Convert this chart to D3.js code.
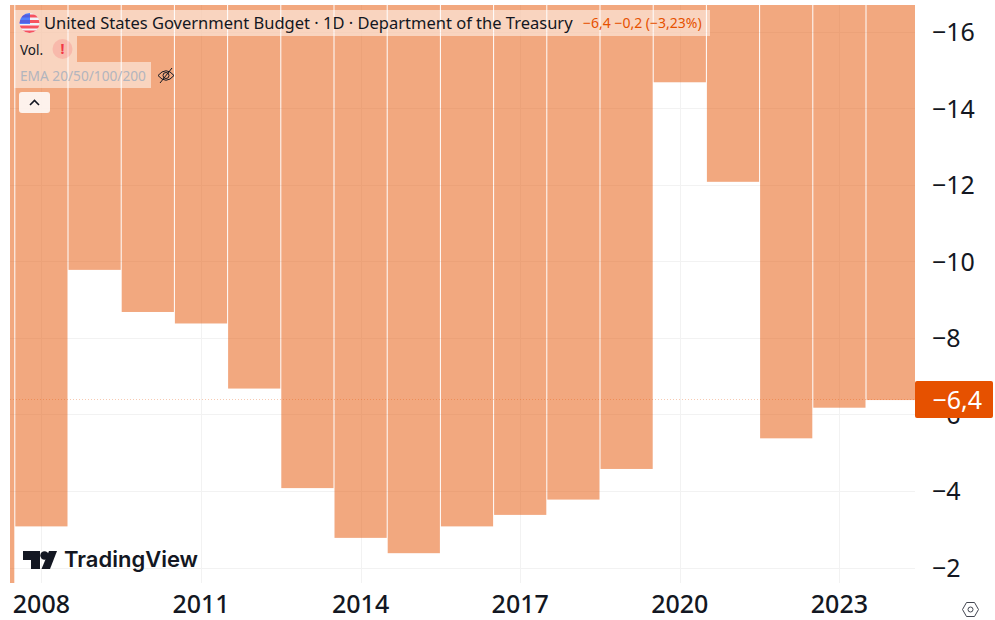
<!DOCTYPE html>
<html>
<head>
<meta charset="utf-8">
<script src="https://cdn.jsdelivr.net/npm/d3@7"></script>
<style>
  html, body { margin: 0; padding: 0; background: #fff; }
  svg { display: block; }
  text { font-family: "Noto Sans", sans-serif; }
</style>
</head>
<body>
<div id="plot"></div>
<script>
var years = [2007, 2008, 2009, 2010, 2011, 2012, 2013, 2014, 2015, 2016, 2017, 2018, 2019, 2020, 2021, 2022, 2023, 2024];
var budget = [-1.6, -3.1, -9.8, -8.7, -8.4, -6.7, -4.1, -2.8, -2.4, -3.1, -3.4, -3.8, -4.6, -14.7, -12.1, -5.4, -6.2, -6.4];
var yTicks = [-16, -14, -12, -10, -8, -6, -4, -2];
var xTicks = [2008, 2011, 2014, 2017, 2020, 2023];
var lastValue = -6.4;

var width = 995, height = 620;
var left = 10, right = 915, top_ = 5, bottom = 583;

var svg = d3.select("#plot").append("svg")
  .attr("width", width)
  .attr("height", height);

var defs = svg.append("defs");
defs.append("clipPath").attr("id", "pane")
  .append("rect").attr("x", left).attr("y", top_).attr("width", right - left).attr("height", bottom - top_);
defs.append("clipPath").attr("id", "flag")
  .append("circle").attr("cx", 29.5).attr("cy", 23).attr("r", 10);

var x = d3.scaleBand()
  .domain(years)
  .range([-38.4, 919.2])
  .paddingInner(0);

var y = d3.scaleLinear()
  .domain([-16, -2])
  .range([32.5, 568.5]);

function fmt(v) {
  return "\u2212" + String(Math.abs(v)).replace(".", ",");
}

var pane = svg.append("g").attr("clip-path", "url(#pane)");

// grid
pane.append("g").selectAll("line").data(yTicks).enter().append("line")
  .attr("x1", left).attr("x2", right)
  .attr("y1", function(d) { return Math.round(y(d)) - 0.5; })
  .attr("y2", function(d) { return Math.round(y(d)) - 0.5; })
  .attr("stroke", "#f2f2f2");

pane.append("g").selectAll("line").data(xTicks).enter().append("line")
  .attr("x1", function(d) { return Math.round(x(d) + x.bandwidth() / 2) + 0.5; })
  .attr("x2", function(d) { return Math.round(x(d) + x.bandwidth() / 2) + 0.5; })
  .attr("y1", top_).attr("y2", bottom)
  .attr("stroke", "#f2f2f2");

// bars hang from the top of the pane
pane.append("g").selectAll("rect").data(years).enter().append("rect")
  .attr("x", function(d) { return x(d) + 0.5; })
  .attr("width", x.bandwidth() - 1)
  .attr("y", top_)
  .attr("height", function(d, i) { return y(budget[i]) - top_; })
  .attr("fill", "#e65100")
  .attr("fill-opacity", 0.5);

// last value line
pane.append("line")
  .attr("x1", left).attr("x2", right)
  .attr("y1", Math.floor(y(lastValue)) - 0.5).attr("y2", Math.floor(y(lastValue)) - 0.5)
  .attr("stroke", "#e65100").attr("stroke-opacity", 0.3)
  .attr("stroke-dasharray", "1 2");

// axes
var yAxis = svg.append("g").attr("transform", "translate(" + right + ",0)")
  .call(d3.axisRight(y).tickValues(yTicks).tickSize(0).tickPadding(17).tickFormat(fmt));
yAxis.select(".domain").remove();
yAxis.selectAll("text").attr("font-size", 25).attr("fill", "#131722").style("font-family", '"Noto Sans", sans-serif');

var xAxis = svg.append("g").attr("transform", "translate(0," + bottom + ")")
  .call(d3.axisBottom(x).tickValues(xTicks).tickSize(0).tickPadding(12).tickFormat(d3.format("d")));
xAxis.select(".domain").remove();
xAxis.selectAll("text").attr("font-size", 25).attr("font-weight", 500).attr("fill", "#131722").style("font-family", '"Noto Sans", sans-serif');

// last price tag
svg.append("rect").attr("x", 915).attr("y", 381).attr("width", 78).attr("height", 37).attr("rx", 2).attr("fill", "#e65100");
svg.append("text").attr("x", 982).attr("y", y(lastValue) + 9)
  .attr("text-anchor", "end").attr("font-size", 25).attr("fill", "#fff").text(fmt(lastValue));

// legend
var legend = svg.append("g");
legend.append("rect").attr("x", 14).attr("y", 10).attr("width", 696).attr("height", 26).attr("fill", "#fff").attr("fill-opacity", 0.5);
legend.append("rect").attr("x", 14).attr("y", 36).attr("width", 63).attr("height", 26).attr("fill", "#fff").attr("fill-opacity", 0.5);
legend.append("rect").attr("x", 14).attr("y", 62).attr("width", 137).attr("height", 26).attr("fill", "#fff").attr("fill-opacity", 0.5);

var flag = legend.append("g").attr("clip-path", "url(#flag)");
flag.append("rect").attr("x", 19).attr("y", 13).attr("width", 21).attr("height", 20).attr("fill", "#f0f3fa");
[14, 19.5, 25, 30].forEach(function(sy) {
  flag.append("rect").attr("x", 19).attr("y", sy + 0.5).attr("width", 21).attr("height", 3).attr("fill", "#f7525f");
});
flag.append("rect").attr("x", 19).attr("y", 13).attr("width", 11).attr("height", 11).attr("fill", "#2962ff").attr("fill-opacity", 0.8);

legend.append("text").attr("x", 44).attr("y", 29).attr("font-size", 16.5).attr("fill", "#131722").text("United States Government Budget \u00b7 1D \u00b7 Department of the Treasury");
legend.append("text").attr("x", 583).attr("y", 28).attr("font-size", 14).attr("fill", "#e65100").text("\u22126,4  \u22120,2 (\u22123,23%)");
legend.append("text").attr("x", 20).attr("y", 55).attr("font-size", 13.5).attr("fill", "#131722").text("Vol.");
legend.append("circle").attr("cx", 62.5).attr("cy", 49).attr("r", 10).attr("fill", "#f7525f").attr("fill-opacity", 0.2);
legend.append("text").attr("x", 62.5).attr("y", 54).attr("text-anchor", "middle").attr("font-size", 14).attr("font-weight", 700).attr("fill", "#f23645").text("!");
legend.append("text").attr("x", 20).attr("y", 81).attr("font-size", 13.7).attr("fill", "#b2b5be").text("EMA 20/50/100/200");

// hidden eye icon
var eye = legend.append("g").attr("fill", "none").attr("stroke", "#131722").attr("stroke-width", 1);
eye.append("path").attr("d", "M158 75.5 Q166 66 174 75.5 Q166 85 158 75.5 Z");
eye.append("circle").attr("cx", 166).attr("cy", 75.5).attr("r", 3);
eye.append("line").attr("x1", 160).attr("y1", 83).attr("x2", 172).attr("y2", 68);

// collapse button
legend.append("rect").attr("x", 19).attr("y", 92).attr("width", 31).attr("height", 21).attr("rx", 3).attr("fill", "#fff").attr("fill-opacity", 0.85);
legend.append("path").attr("d", "M30 105 L34.5 100.5 L39 105").attr("fill", "none").attr("stroke", "#131722").attr("stroke-width", 1.6);

// logo
var logo = svg.append("g").attr("fill", "#131722");
logo.append("path").attr("d", "M23 551 H40 V569 H31 V560 H23 Z");
logo.append("circle").attr("cx", 44.5).attr("cy", 555.5).attr("r", 4.2);
logo.append("path").attr("d", "M49 551 H57 L50 569 H41.5 Z");
logo.append("text").attr("x", 64).attr("y", 567).attr("font-size", 22).attr("font-weight", 600).style("font-family", "Inter, sans-serif").attr("fill", "#131722").text("TradingView");

// settings nut, bottom right
svg.append("path").attr("d", "M962.5 609.5 L966.5 602.5 H974.5 L978.5 609.5 L974.5 616.5 H966.5 Z").attr("fill", "none").attr("stroke", "#434651").attr("stroke-width", 1);
svg.append("circle").attr("cx", 970.5).attr("cy", 609.5).attr("r", 2.5).attr("fill", "none").attr("stroke", "#434651").attr("stroke-width", 1);
</script>
</body>
</html>
